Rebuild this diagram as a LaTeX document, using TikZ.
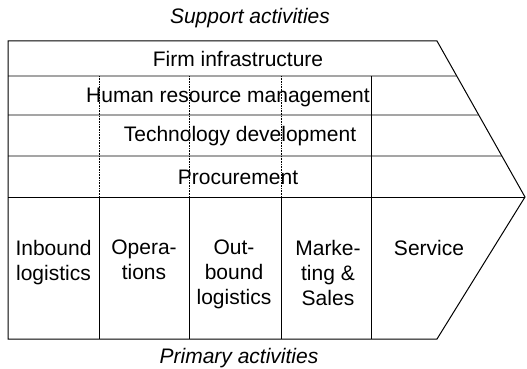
\documentclass[tikz,border=0pt]{standalone}
\usepackage{fontspec}
\setmainfont{Liberation Sans}
\usetikzlibrary{calc}

\begin{document}
\begin{tikzpicture}[x=1pt,y=-1pt,
    frame/.style={line width=1pt},
    divider/.style={line width=0.6pt},
    gap/.style={line width=0.6pt, densely dotted},
    activity/.style={font=\fontsize{21}{25}\selectfont, inner sep=0pt},
    primary/.style={activity, align=center, anchor=north},
    heading/.style={activity, font=\fontsize{21}{25}\selectfont\itshape, anchor=base}]
    \useasboundingbox (0,0) rectangle (527,369);
    \coordinate (tl) at (8,41);
    \coordinate (tr) at (437,41);
    \coordinate (nose) at (525,197);
    \coordinate (br) at (437,339);
    \coordinate (bl) at (8,339);
    \coordinate (ml) at (8,197);
    \draw[frame] (tl) -- (tr) -- (nose) -- (br) -- (bl) -- cycle;
    % support rows
    \foreach \y/\f in {76/35, 115/74, 156/115}
        \draw[divider] (8,\y) -- ($(tr)!\f/156!(nose)$);
    \draw[frame] (ml) -- (nose);
    \foreach \x in {99,189,281}
        \draw[gap] (\x,76) -- (\x,197);
    \draw[divider] (371,76) -- (371,197);
    % primary columns
    \foreach \x in {99,189,281,371}
        \draw[frame] (\x,197) -- (\x,339);

    \node[heading] (support) at (250,24) {Support activities};
    \node[heading] (primary) at (239,363) {Primary activities};

    \node[activity] (infra) at (238,59) {Firm infrastructure};
    \node[activity] (hrm) at (228,97) {Human resource management};
    \node[activity] (tech) at (240,136) {Technology development};
    \node[activity] (proc) at (238,177) {Procurement};

    \node[primary] (inbound) at (53.5,240) {Inbound\\logistics};
    \node[primary] (ops) at (144,240) {Opera-\\tions};
    \node[primary] (outbound) at (234,240) {Out-\\bound\\logistics};
    \node[primary] (marketing) at (328,240) {Marke-\\ting \&\\Sales};
    \node[primary] (service) at (429,240) {Service};
\end{tikzpicture}
\end{document}
